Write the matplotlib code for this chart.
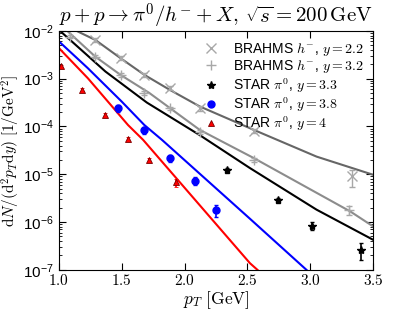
import matplotlib
matplotlib.use("Agg")
import matplotlib.pyplot as plt
from matplotlib.ticker import FuncFormatter, LogLocator, MultipleLocator
import numpy as np

plt.rcParams['mathtext.fontset'] = 'cm'
plt.rcParams['font.family'] = ['Liberation Sans', 'DejaVu Sans']

# BRAHMS h-, y = 2.2
br22_pt = [1.29, 1.49, 1.68, 1.88, 2.12, 2.55, 3.33]
br22_val = [6.5e-3, 2.7e-3, 1.2e-3, 6.3e-4, 2.4e-4, 8.1e-5, 9.0e-6]
br22_err = [6e-4, 2.5e-4, 1.2e-4, 6e-5, 2.5e-5, 9e-6, 3.5e-6]

# BRAHMS h-, y = 3.2
br32_pt = [1.09, 1.29, 1.49, 1.68, 1.88, 2.12, 2.55, 3.31]
br32_val = [7.6e-3, 2.9e-3, 1.2e-3, 5.0e-4, 2.4e-4, 7.8e-5, 2.0e-5, 1.8e-6]
br32_err = [5e-4, 2.5e-4, 1.0e-4, 4e-5, 2e-5, 7e-6, 2e-6, 4e-7]

# STAR pi0, y = 3.3
s33_pt = [2.34, 2.74, 3.01, 3.40]
s33_val = [1.2e-5, 2.9e-6, 8.4e-7, 2.6e-7]
s33_err = [1.5e-6, 3.5e-7, 1.5e-7, 1.0e-7]

# STAR pi0, y = 3.8
s38_pt = [1.47, 1.68, 1.88, 2.08, 2.25]
s38_val = [2.4e-4, 8.3e-5, 2.2e-5, 7.3e-6, 1.8e-6]
s38_err = [4e-5, 1.3e-5, 3.5e-6, 1.3e-6, 5e-7]

# STAR pi0, y = 4
s40_pt = [1.02, 1.18, 1.37, 1.55, 1.72, 1.93]
s40_val = [1.8e-3, 5.9e-4, 1.75e-4, 5.5e-5, 2.0e-5, 6.8e-6]
s40_err = [1.5e-4, 5e-5, 1.5e-5, 5e-6, 2e-6, 1.3e-6]

# theory curves (pT, log10 value)
c22_pt = [1.14, 1.29, 1.49, 1.68, 1.88, 2.12, 2.55, 3.05, 3.50]
c22_log = [-2.00, -2.19, -2.57, -2.92, -3.23, -3.58, -4.07, -4.63, -5.01]
c32_pt = [1.07, 1.29, 1.49, 1.72, 2.12, 2.55, 3.32, 3.50]
c32_log = [-2.01, -2.54, -2.92, -3.30, -4.07, -4.66, -5.78, -6.09]
c33_pt = [1.00, 1.37, 1.70, 2.12, 2.52, 3.05, 3.50]
c33_log = [-1.98, -2.85, -3.50, -4.18, -4.87, -5.74, -6.37]
c38_pt = [1.00, 1.23, 1.50, 1.68, 1.82, 2.52, 2.97]
c38_log = [-2.22, -2.78, -3.48, -3.97, -4.28, -5.93, -7.00]
c40_pt = [1.00, 1.23, 1.55, 1.67, 2.52, 2.58]
c40_log = [-2.36, -2.99, -3.97, -4.28, -6.86, -7.00]

labels = [r'BRAHMS $h^{-}$, $y=2.2$', r'BRAHMS $h^{-}$, $y=3.2$',
          r'STAR $\pi^0$, $y=3.3$', r'STAR $\pi^0$, $y=3.8$', r'STAR $\pi^0$, $y=4$']

fig = plt.figure(figsize=(4.15, 3.12), dpi=100)
ax = fig.add_axes([0.142, 0.135, 0.757, 0.766])

ax.plot(c22_pt, 10 ** np.array(c22_log), color='#666666', lw=1.5)
ax.plot(c32_pt, 10 ** np.array(c32_log), color='#8c8c8c', lw=1.5)
ax.plot(c33_pt, 10 ** np.array(c33_log), color='black', lw=1.5)
ax.plot(c38_pt, 10 ** np.array(c38_log), color='blue', lw=1.5)
ax.plot(c40_pt, 10 ** np.array(c40_log), color='red', lw=1.5)

gray = '#a8a8a8'
ax.errorbar(br22_pt, br22_val, yerr=br22_err, fmt='x', color=gray, ms=7,
            mew=1.0, elinewidth=1.0, capsize=2)
ax.errorbar(br32_pt, br32_val, yerr=br32_err, fmt='+', color=gray, ms=7,
            mew=1.0, elinewidth=1.0, capsize=2)
ax.errorbar(s33_pt, s33_val, yerr=s33_err, fmt='*', color='black', ms=6,
            elinewidth=1.2, capsize=1.5)
ax.errorbar(s38_pt, s38_val, yerr=s38_err, fmt='o', color='blue', ms=5,
            elinewidth=1.2, capsize=1.5)
ax.errorbar(s40_pt, s40_val, yerr=s40_err, fmt='^', color='red', mec='#7a0000',
            ecolor='red', ms=5, mew=0.6, elinewidth=1.2, capsize=1.5)

# legend handles: markers only
h1, = ax.plot([], [], 'x', color=gray, ms=7, mew=1.0)
h2, = ax.plot([], [], '+', color=gray, ms=7, mew=1.0)
h3, = ax.plot([], [], '*', color='black', ms=6)
h4, = ax.plot([], [], 'o', color='blue', ms=5)
h5, = ax.plot([], [], '^', color='red', mec='#7a0000', ms=5, mew=0.6)

ax.set_yscale('log')
ax.set_xlim(1.0, 3.5)
ax.set_ylim(1e-7, 1e-2)
ax.xaxis.set_major_locator(MultipleLocator(0.5))
ax.xaxis.set_major_formatter(FuncFormatter(lambda v, p: r'$%.1f$' % v))
ax.yaxis.set_major_locator(LogLocator(base=10))
ax.yaxis.set_minor_locator(LogLocator(base=10, subs=np.arange(2, 10)))
ax.tick_params(which='both', direction='in', top=True, right=True, labelsize=11)
ax.tick_params(which='major', length=5)
ax.tick_params(which='minor', length=2.5)
ax.tick_params(axis='x', pad=2)

ax.set_xlabel(r'$p_T\ [\mathrm{GeV}]$', fontsize=12.5, labelpad=1)
ax.set_ylabel(r'$\mathrm{d}N/(\mathrm{d}^2p_T\mathrm{d}y)\ [1/\mathrm{GeV}^2]$', fontsize=11, labelpad=1)
ax.set_title(r'$p+p\to\pi^0/h^{-}+X,\,\sqrt{s}=200\,\mathrm{GeV}$', fontsize=15, pad=4)

ax.legend([h1, h2, h3, h4, h5], labels, loc='upper right', frameon=False,
          fontsize=10, numpoints=1, handletextpad=0.8, labelspacing=0.05,
          borderaxespad=0.3, handlelength=1.5)

fig.savefig('out.png', dpi=100)
